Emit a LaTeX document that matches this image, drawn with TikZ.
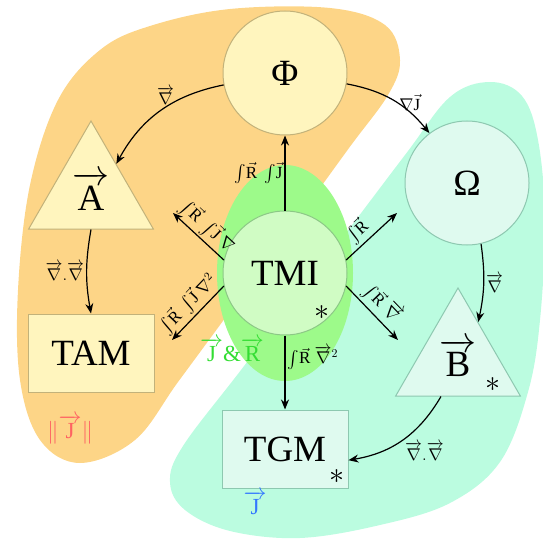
\RequirePackage{fix-cm}
\documentclass[tikz,border=0pt]{standalone}
\usepackage{amsmath}
\usepackage{fontspec}
\setmainfont{Liberation Serif}
\usetikzlibrary{arrows.meta,shapes.geometric}
\definecolor{potzone}{HTML}{FDD587}
\definecolor{fieldzone}{HTML}{BBFCE0}
\definecolor{mixzone}{HTML}{9DFA8A}
\definecolor{potfill}{HTML}{FFF5BE}
\definecolor{potline}{HTML}{C2B27A}
\definecolor{fieldfill}{HTML}{DFFAEF}
\definecolor{fieldline}{HTML}{8DC8B0}
\definecolor{mixfill}{HTML}{D0FCC4}
\definecolor{mixline}{HTML}{8CC886}
\definecolor{normred}{HTML}{FF6262}
\definecolor{jblue}{HTML}{3377FF}
\definecolor{jrgreen}{HTML}{33DD33}
\tikzset{
  bigtext/.style={font=\fontsize{37}{40}\selectfont},
  potnode/.style={draw=potline,fill=potfill,line width=1pt,bigtext,inner sep=0pt},
  fieldnode/.style={draw=fieldline,fill=fieldfill,line width=1pt,bigtext,inner sep=0pt},
  mixnode/.style={draw=mixline,fill=mixfill,line width=1pt,bigtext,inner sep=0pt},
  roundnode/.style={circle,minimum size=124pt},
  trinode/.style={regular polygon,regular polygon sides=3,minimum size=144pt},
  boxnode/.style={rectangle,minimum width=126pt,minimum height=78pt},
  flow/.style={-{Stealth[length=10pt,width=8pt]},line width=1.2pt},
  flowlabel/.style={font=\fontsize{17}{19}\selectfont,inner sep=2pt},
  starmark/.style={font=\fontsize{30}{32}\selectfont,inner sep=0pt},
  zonelabel/.style={font=\fontsize{23}{25}\selectfont,inner sep=0pt}
}

\begin{document}
\begin{tikzpicture}[x=1pt,y=-1pt]
  \useasboundingbox (0,0) rectangle (543,540);
  % zones
  \fill[potzone] plot[smooth cycle,tension=0.6] coordinates {
    (150,26) (230,9) (330,8) (385,25) (400,60) (388,95) (349,148) (291,228)
    (231,310) (178,382) (135,440) (80,463) (40,440) (20,380) (18,290) (30,185)
    (58,100) (100,50)};
  \fill[fieldzone] plot[smooth cycle,tension=0.6] coordinates {
    (450,97) (490,82) (522,96) (538,140) (545,220) (540,320) (528,392) (500,462)
    (450,503) (380,525) (300,538) (230,531) (185,510) (170,482) (183,446)
    (241,370) (324,262) (405,155)};
  \fill[mixzone] (285,273) ellipse [x radius=68, y radius=108];

  % nodes
  \node[potnode,roundnode] (phi) at (285,73) {Φ};
  \node[potnode,trinode] (A) at (91,193) {\raisebox{4pt}{$\overrightarrow{\text{A}}$}};
  \node[potnode,boxnode] (tam) at (91,353) {TAM};
  \node[fieldnode,roundnode] (omega) at (467,183) {Ω};
  \node[fieldnode,trinode] (B) at (458,360) {\raisebox{4pt}{$\overrightarrow{\text{B}}$}};
  \node[fieldnode,boxnode] (tgm) at (285,449) {TGM};
  \node[mixnode,roundnode] (tmi) at (285,273) {TMI};

  \node[starmark] (tmistar) at (322,313) {$\ast$};
  \node[starmark] (bstar) at (493,385) {$\ast$};
  \node[starmark] (tgmstar) at (337,477) {$\ast$};

  \node[zonelabel,text=normred] (normj) at (70,430) {$\|\overrightarrow{\text{J}}\|$};
  \node[zonelabel,text=jblue] (bluej) at (255,503) {$\overrightarrow{\text{J}}$};
  \node[zonelabel,text=jrgreen] (jandr) at (232,350)
    {$\overrightarrow{\text{J}}$\&$\overrightarrow{\text{R}}$};

  % free ends
  \coordinate (nw) at (173,213);
  \coordinate (sw) at (172,340);
  \coordinate (ne) at (397,213);
  \coordinate (se) at (398,340);

  % arrows
  \draw[flow] (phi.191) to[bend right=25] node[flowlabel,above,pos=0.45] {$\overrightarrow{\nabla}$} (A.49);
  \draw[flow] (phi.-10) to[bend left=20] node[flowlabel,right,pos=0.55] {$\nabla\vec{\text{J}}$} (omega.127);
  \draw[flow] (A.south) to[bend right=10] node[flowlabel,left] {$\overrightarrow{\nabla}.\overrightarrow{\nabla}$} (tam.north);
  \draw[flow] (omega.-77) to[bend left=10] node[flowlabel,right] {$\overrightarrow{\nabla}$} (B.62);
  \draw[flow] (B.245) to[bend left=25] node[flowlabel,below right] {$\overrightarrow{\nabla}.\overrightarrow{\nabla}$} (tgm.-10);
  \draw[flow] (tmi) -- node[flowlabel,left] {$\int\!\vec{\text{R}}\ \int\!\vec{\text{J}}$} (phi);
  \draw[flow] (tmi) -- node[flowlabel,right,pos=0.3] {$\int\!\vec{\text{R}}\ \overrightarrow{\nabla}^2$} (tgm);
  \draw[flow] (tmi.168) -- node[flowlabel,sloped,above] {$\int\!\vec{\text{R}}\ \int\!\vec{\text{J}}\ \nabla$} (nw);
  \draw[flow] (tmi.192) -- node[flowlabel,sloped,above] {$\int\!\vec{\text{R}}\ \int\!\vec{\text{J}}\ \nabla^2$} (sw);
  \draw[flow] (tmi.12) -- node[flowlabel,sloped,above,pos=0.4] {$\int\!\vec{\text{R}}$} (ne);
  \draw[flow] (tmi.-12) -- node[flowlabel,sloped,above] {$\int\!\vec{\text{R}}\ \overrightarrow{\nabla}$} (se);
\end{tikzpicture}
\end{document}
